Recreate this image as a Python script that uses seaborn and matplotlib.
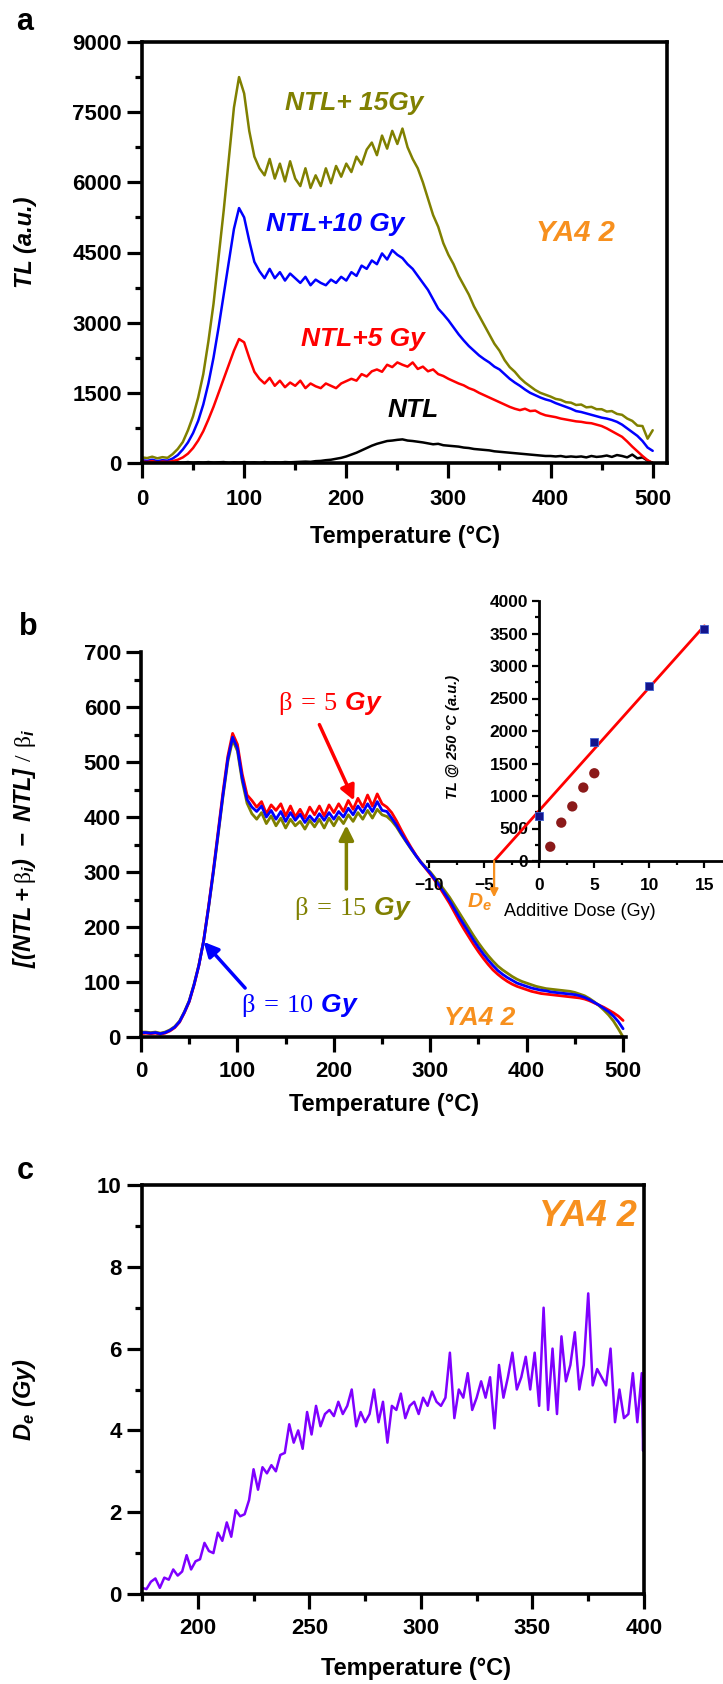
import numpy as np
import pandas as pd
import matplotlib
matplotlib.use("Agg")
import matplotlib.pyplot as plt
import seaborn as sns
from matplotlib.ticker import MultipleLocator

# ---------------- data ----------------
temp_a = np.arange(0, 505, 5)
tl_15 = [120, 105, 135, 100, 125, 110, 190, 300, 450, 700,
         1000, 1400, 1900, 2600, 3400, 4400, 5400, 6500, 7600, 8250,
         7900, 7100, 6550, 6300, 6150, 6500, 6080, 6400, 6020, 6450,
         6080, 5920, 6300, 5880, 6150, 5920, 6300, 5980, 6350, 6120,
         6400, 6220, 6550, 6380, 6700, 6850, 6580, 7000, 6720, 7100,
         6820, 7150, 6750, 6500, 6300, 6000, 5650, 5300, 5050, 4700,
         4450, 4250, 4000, 3800, 3600, 3350, 3150, 2950, 2750, 2550,
         2400, 2200, 2050, 1950, 1820, 1720, 1640, 1560, 1500, 1460,
         1420, 1370, 1350, 1300, 1290, 1240, 1250, 1190, 1200, 1150,
         1150, 1100, 1110, 1050, 1030, 950, 900, 800, 790, 520,
         700]
tl_10 = [60, 45, 70, 40, 60, 50, 95, 170, 290, 440,
         640, 900, 1250, 1700, 2250, 2900, 3600, 4300, 5000, 5450,
         5250, 4750, 4300, 4100, 3950, 4150, 3950, 4080, 3900, 4050,
         3950, 3850, 3980, 3800, 3920, 3850, 3800, 3920, 3850, 3980,
         3900, 4080, 4000, 4220, 4150, 4330, 4250, 4480, 4350, 4550,
         4450, 4380, 4250, 4150, 4000, 3850, 3700, 3500, 3300, 3180,
         3050, 2900, 2750, 2620, 2500, 2400, 2300, 2220, 2150, 2060,
         2000, 1900, 1800, 1720, 1650, 1570, 1500, 1450, 1400, 1360,
         1330, 1280, 1240, 1200, 1160, 1110, 1090, 1060, 1030, 1000,
         970, 950, 920, 880, 820, 740, 660, 580, 470, 330,
         260]
tl_5 = [30, 20, 40, 10, 30, 20, 40, 70, 120, 200,
        320, 480, 680, 930, 1200, 1500, 1800, 2100, 2400, 2650,
        2580, 2250, 1950, 1800, 1700, 1820, 1650, 1760, 1620, 1720,
        1650, 1760, 1600, 1700, 1640, 1600, 1700, 1650, 1600, 1700,
        1750, 1800, 1760, 1900, 1850, 1960, 2000, 1950, 2100, 2050,
        2150, 2100, 2060, 2150, 2010, 2060, 1960, 2000, 1900, 1860,
        1800, 1750, 1700, 1660, 1600, 1560, 1500, 1450, 1400, 1350,
        1300, 1250, 1200, 1160, 1130, 1160, 1110, 1120, 1060, 1020,
        1000, 980, 950, 930, 910, 890, 880, 860, 850, 820,
        790, 740, 680, 620, 560, 460, 350, 250, 150, 60,
        0]
tl_ntl = [10, 20, 5, 15, 10, 20, 5, 15, 10, 20,
          5, 15, 10, 20, 10, 15, 20, 5, 15, 10,
          20, 10, 15, 5, 20, 10, 15, 10, 20, 15,
          20, 25, 30, 25, 40, 45, 60, 70, 90, 110,
          140, 180, 220, 270, 320, 370, 410, 440, 470, 480,
          495, 505, 480, 470, 455, 440, 420, 400, 410, 380,
          370, 360, 350, 330, 320, 300, 290, 280, 270, 250,
          240, 230, 220, 210, 200, 190, 180, 170, 160, 150,
          150, 140, 150, 130, 140, 130, 140, 120, 150, 130,
          140, 160, 130, 170, 150, 120, 180, 100, 120, 50,
          0]

norm_10 = [8, 8, 7, 8, 6, 8, 12, 18, 28, 45,
           65, 95, 130, 175, 235, 300, 370, 440, 505, 545,
           525, 470, 432, 418, 410, 420, 400, 412, 396, 410,
           392, 408, 394, 405, 390, 402, 392, 406, 394, 408,
           396, 410, 400, 416, 404, 420, 408, 424, 410, 428,
           412, 410, 398, 385, 370, 356, 343, 330, 318, 308,
           298, 286, 274, 261, 248, 233, 218, 204, 190, 176,
           163, 151, 140, 130, 121, 114, 108, 103, 98, 95,
           92, 89, 87, 85, 84, 82, 81, 80, 79, 78,
           77, 75, 72, 68, 63, 58, 52, 46, 38, 28,
           15]
norm_5 = [6, 7, 6, 7, 5, 7, 11, 17, 27, 44,
          64, 94, 130, 176, 237, 303, 374, 445, 510, 552,
          532, 478, 440, 430, 418, 428, 406, 422, 412, 424,
          402, 420, 400, 414, 398, 418, 404, 420, 402, 422,
          408, 424, 410, 430, 414, 434, 418, 440, 420, 442,
          424, 418, 408, 393, 376, 360, 345, 331, 318, 307,
          296, 284, 271, 257, 243, 227, 211, 196, 182, 168,
          155, 143, 132, 122, 114, 107, 101, 96, 92, 89,
          86, 83, 81, 79, 78, 77, 76, 75, 74, 73,
          72, 71, 69, 66, 62, 58, 54, 49, 44, 38,
          30]
norm_15 = [9, 9, 8, 9, 7, 9, 13, 19, 29, 46,
           66, 96, 131, 175, 234, 298, 367, 437, 500, 540,
           520, 465, 425, 406, 396, 408, 388, 402, 384, 398,
           380, 396, 384, 392, 378, 394, 382, 396, 380, 398,
           384, 400, 388, 404, 392, 408, 396, 412, 398, 414,
           404, 401, 393, 382, 368, 355, 342, 330, 319, 309,
           300, 289, 278, 266, 254, 240, 226, 212, 198, 184,
           171, 159, 148, 138, 129, 122, 116, 110, 105, 101,
           98, 95, 92, 90, 88, 87, 86, 85, 84, 83,
           81, 78, 75, 70, 64, 57, 49, 40, 29, 15,
           0]

dose_meas = [0, 5, 10, 15]
tl250_meas = [700, 1830, 2690, 3570]
dose_other = [1, 2, 3, 4, 5]
tl250_other = [220, 590, 840, 1130, 1350]

temp_c = list(range(175, 400, 2)) + [399.6, 400]
de_c = [0.15, 0.12, 0.30, 0.38, 0.15, 0.40, 0.35, 0.60, 0.45, 0.55,
        0.95, 0.60, 0.80, 0.85, 1.25, 1.05, 1.00, 1.50, 1.30, 1.75,
        1.40, 2.05, 1.90, 1.95, 2.30, 3.05, 2.55, 3.10, 2.95, 3.15,
        3.00, 3.40, 3.45, 4.15, 3.70, 4.00, 3.55, 4.45, 3.90, 4.60,
        4.10, 4.40, 4.50, 4.35, 4.70, 4.40, 4.60, 5.00, 4.10, 4.45,
        4.20, 4.40, 5.00, 4.20, 4.70, 3.70, 4.60, 4.50, 4.90, 4.30,
        4.60, 4.70, 4.40, 4.80, 4.60, 4.95, 4.70, 4.60, 4.80, 5.90,
        4.30, 5.00, 4.80, 5.40, 4.50, 4.80, 5.20, 4.80, 5.30, 4.05,
        5.60, 4.80, 5.30, 5.90, 5.00, 5.30, 5.80, 5.00, 5.90, 4.60,
        7.00, 4.50, 6.00, 4.40, 6.30, 5.20, 5.60, 6.40, 5.00, 5.60,
        7.35, 5.10, 5.50, 5.30, 5.10, 6.00, 4.20, 5.00, 4.30, 4.40,
        5.40, 4.20, 5.40, 3.50, 5.10]

OLIVE = "#808000"
ORANGE = "#F7901E"
PURPLE = "#7F00FF"

# ---------------- style ----------------
sns.set_theme(style="ticks")
plt.rcParams["font.family"] = ["Liberation Sans", "DejaVu Sans"]
plt.rcParams.update({
    "font.weight": "bold",
    "axes.labelweight": "bold",
    "mathtext.fontset": "custom",
    "mathtext.rm": "Liberation Serif:regular",
    "mathtext.it": "Liberation Sans:italic:bold",
    "mathtext.bf": "Liberation Sans:italic:bold",
    "axes.edgecolor": "black",
    "axes.linewidth": 2.6,
    "xtick.color": "black", "ytick.color": "black",
    "text.color": "black",
    "xtick.major.width": 2.3, "ytick.major.width": 2.3,
    "xtick.minor.width": 2.3, "ytick.minor.width": 2.3,
    "xtick.major.size": 10.5, "ytick.major.size": 10.5,
    "xtick.minor.size": 5, "ytick.minor.size": 5,
    "xtick.labelsize": 16, "ytick.labelsize": 16,
    "xtick.direction": "out", "ytick.direction": "out",
})

W, H = 723, 1684
fig = plt.figure(figsize=(W / 100, H / 100), dpi=100)


def box(l, t, r, b):
    return [l / W, 1 - b / H, (r - l) / W, (b - t) / H]


def ftext(x, y, s, **kw):
    fig.text(x / W, 1 - y / H, s, ha="center", va="center", **kw)


# ---------------- panel a ----------------
axa = fig.add_axes(box(142, 42, 667, 463))
dfa = pd.DataFrame({
    "T": np.concatenate([temp_a] * 4),
    "TL": np.concatenate([tl_ntl, tl_15, tl_10, tl_5]),
    "series": np.repeat(["NTL", "NTL+15Gy", "NTL+10Gy", "NTL+5Gy"], len(temp_a)),
})
sns.lineplot(data=dfa, x="T", y="TL", hue="series",
             hue_order=["NTL", "NTL+15Gy", "NTL+10Gy", "NTL+5Gy"],
             palette={"NTL": "black", "NTL+15Gy": OLIVE, "NTL+10Gy": "#0000FF", "NTL+5Gy": "#FF0000"},
             estimator=None, sort=False, legend=False, linewidth=1.8, ax=axa)
axa.set_xlim(0, 514)
axa.set_ylim(0, 9000)
axa.xaxis.set_major_locator(MultipleLocator(100))
axa.xaxis.set_minor_locator(MultipleLocator(50))
axa.yaxis.set_major_locator(MultipleLocator(1500))
axa.yaxis.set_minor_locator(MultipleLocator(750))
axa.tick_params(axis="x", which="major", pad=8)
axa.tick_params(axis="y", which="major", pad=4)
axa.set_xlabel("")
axa.set_ylabel("")
tkw = dict(ha="left", va="center", style="italic", weight="bold", fontsize=19)
axa.text(140, 7700, "NTL+ 15Gy", color=OLIVE, **tkw)
axa.text(121, 5100, "NTL+10 Gy", color="#0000FF", **tkw)
axa.text(156, 2650, "NTL+5 Gy", color="#FF0000", **tkw)
axa.text(240, 1130, "NTL", color="black", **tkw)
axa.text(386, 4920, "YA4 2", color=ORANGE, ha="left", va="center", style="italic",
         weight="bold", fontsize=21)
ftext(25, 22, "a", fontsize=22, weight="bold")
ftext(405, 536, "Temperature (°C)", fontsize=17, weight="bold")
ftext(26, 242, "TL (a.u.)", fontsize=17, weight="bold", style="italic", rotation=90)

# ---------------- panel b ----------------
axb = fig.add_axes(box(141, 652, 626, 1037))
dfb = pd.DataFrame({
    "T": np.concatenate([temp_a] * 3),
    "val": np.concatenate([norm_15, norm_5, norm_10]),
    "beta": np.repeat(["15", "5", "10"], len(temp_a)),
})
sns.lineplot(data=dfb, x="T", y="val", hue="beta", hue_order=["15", "5", "10"],
             palette={"15": OLIVE, "5": "#FF0000", "10": "#0000FF"},
             estimator=None, sort=False, legend=False, linewidth=2.0, ax=axb)
axb.set_xlim(0, 503)
axb.set_ylim(0, 700)
axb.spines["top"].set_visible(False)
axb.spines["right"].set_visible(False)
axb.xaxis.set_major_locator(MultipleLocator(100))
axb.xaxis.set_minor_locator(MultipleLocator(50))
axb.yaxis.set_major_locator(MultipleLocator(100))
axb.yaxis.set_minor_locator(MultipleLocator(50))
axb.tick_params(axis="x", which="major", pad=6.5)
axb.tick_params(axis="y", which="major", pad=4)
axb.set_xlabel("")
axb.set_ylabel("")
bkw = dict(ha="left", va="center", fontsize=19)
axb.text(142, 606, r"$\mathrm{\beta\,=\,5}\ \mathbf{Gy}$", color="#FF0000", **bkw)
axb.text(159, 234, r"$\mathrm{\beta\,=\,15}\ \mathbf{Gy}$", color=OLIVE, **bkw)
axb.text(104, 57, r"$\mathrm{\beta\,=\,10}\ \mathbf{Gy}$", color="#0000FF", **bkw)
axb.text(314, 35, "YA4 2", color=ORANGE, ha="left", va="center", style="italic",
         weight="bold", fontsize=19)
akw = dict(arrowstyle="-|>", lw=2.5, mutation_scale=22, shrinkA=0, shrinkB=0)
axb.annotate("", xy=(221, 430), xytext=(185, 568), arrowprops=dict(color="#FF0000", **akw))
axb.annotate("", xy=(213, 385), xytext=(213, 269), arrowprops=dict(color=OLIVE, **akw))
axb.annotate("", xy=(65, 173), xytext=(108, 89), arrowprops=dict(color="#0000FF", **akw))
ftext(28, 627, "b", fontsize=22, weight="bold")
ftext(384, 1105, "Temperature (°C)", fontsize=17, weight="bold")
ftext(25, 848, r"$\mathbf{[(NTL+}\mathrm{\beta}_{\mathbf{i}}\mathbf{)\ -\ NTL]\ }\mathrm{/\ \beta}_{\mathbf{i}}$",
      fontsize=17, rotation=90)

# ---------------- inset ----------------
axi = fig.add_axes(box(427, 601, 722, 861))
axi.patch.set_alpha(0)
slope, icpt = np.polyfit(dose_meas, tl250_meas, 1)
x0 = -icpt / slope
xfit = np.array([x0, max(dose_meas)])
sns.lineplot(x=xfit, y=icpt + slope * xfit, color="#FF0000", linewidth=2.0,
             estimator=None, sort=False, ax=axi)
sns.scatterplot(x=dose_other, y=tl250_other, color="#8B1A1A", marker="o", s=55,
                edgecolor="none", ax=axi, zorder=3)
sns.scatterplot(x=dose_meas, y=tl250_meas, color="#14148C", marker="s", s=40,
                edgecolor="#4060D0", linewidth=0.6, ax=axi, zorder=3)
axi.set_xlim(-10.2, 16.6)
axi.set_ylim(0, 4000)
axi.spines["left"].set_position(("data", 0))
axi.spines["bottom"].set_position(("data", 0))
axi.spines["top"].set_visible(False)
axi.spines["right"].set_visible(False)
for s in ("left", "bottom"):
    axi.spines[s].set_linewidth(2.0)
axi.xaxis.set_major_locator(MultipleLocator(5))
axi.xaxis.set_minor_locator(MultipleLocator(2.5))
axi.yaxis.set_major_locator(MultipleLocator(500))
axi.yaxis.set_minor_locator(MultipleLocator(250))
axi.tick_params(which="major", length=5, width=1.6, labelsize=12.5)
axi.tick_params(which="minor", length=3, width=1.6)
axi.tick_params(axis="x", which="major", pad=7)
axi.tick_params(axis="y", which="major", pad=3)
axi.set_xlabel("")
axi.set_ylabel("")
axi.annotate("", xy=(x0, -560), xytext=(x0, 0), annotation_clip=False,
             arrowprops=dict(arrowstyle="-|>", color=ORANGE, lw=1.6, mutation_scale=12,
                             shrinkA=0, shrinkB=0))
axi.text(x0 - 0.2, -640, r"$\mathbf{D}_{\mathbf{e}}$", color=ORANGE, fontsize=15,
         ha="right", va="center", clip_on=False)
ftext(453, 737, "TL @ 250 °C (a.u.)", fontsize=10.5, weight="bold", style="italic", rotation=90)
ftext(580, 911, "Additive Dose (Gy)", fontsize=13, weight="normal")

# ---------------- panel c ----------------
axc = fig.add_axes(box(142, 1185, 644, 1594))
sns.lineplot(x=temp_c, y=de_c, color=PURPLE, linewidth=1.8, estimator=None,
             sort=False, ax=axc)
axc.set_xlim(175, 400)
axc.set_ylim(0, 10)
axc.xaxis.set_major_locator(MultipleLocator(50))
axc.xaxis.set_minor_locator(MultipleLocator(25))
axc.yaxis.set_major_locator(MultipleLocator(2))
axc.yaxis.set_minor_locator(MultipleLocator(1))
axc.tick_params(axis="x", which="major", pad=6.5)
axc.tick_params(axis="y", which="major", pad=4)
axc.set_xlabel("")
axc.set_ylabel("")
axc.text(397, 9.24, "YA4 2", color=ORANGE, ha="right", va="center", style="italic",
         weight="bold", fontsize=26)
ftext(25, 1171, "c", fontsize=22, weight="bold")
ftext(416, 1669, "Temperature (°C)", fontsize=17, weight="bold")
ftext(25, 1400, r"$\mathbf{D}_{\mathbf{e}}\ \mathbf{(Gy)}$", fontsize=17, rotation=90)

fig.savefig("out.png", dpi=100, facecolor="white")
